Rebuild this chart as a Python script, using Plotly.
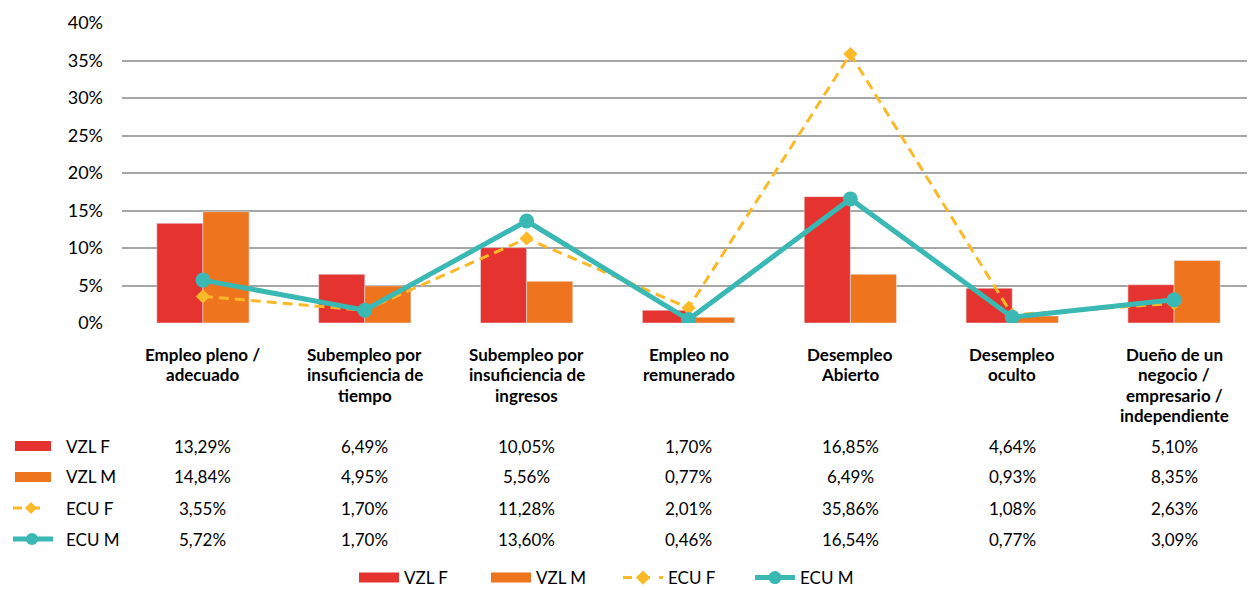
import plotly.graph_objects as go

categories = [
    "Empleo pleno /<br>adecuado",
    "Subempleo por<br>insuficiencia de<br>tiempo",
    "Subempleo por<br>insuficiencia de<br>ingresos",
    "Empleo no<br>remunerado",
    "Desempleo<br>Abierto",
    "Desempleo<br>oculto",
    "Dueño de un<br>negocio /<br>empresario /<br>independiente",
]
vzl_f = [13.29, 6.49, 10.05, 1.70, 16.85, 4.64, 5.10]
vzl_m = [14.84, 4.95, 5.56, 0.77, 6.49, 0.93, 8.35]
ecu_f = [3.55, 1.70, 11.28, 2.01, 35.86, 1.08, 2.63]
ecu_m = [5.72, 1.70, 13.60, 0.46, 16.54, 0.77, 3.09]
series_names = ["VZL F", "VZL M", "ECU F", "ECU M"]

RED = "#E5332F"
ORANGE = "#EE751E"
YELLOW = "#FBB928"
TEAL = "#3AB8B4"
FONT = "Lato"
DASH = "10px,6px"

# page has an 8px body margin, so the figure is drawn 8px smaller
PW, PL, PT = 1133, 122, 23  # plot width, plot left / top on screen


def px_x(p):
    return (p - PL) / PW


def px_y(p):
    return (PT + 300 - p) / 300


xs = list(range(len(categories)))

fig = go.Figure()
fig.add_trace(go.Bar(x=xs, y=vzl_f, name="VZL F", marker_color=RED,
                     showlegend=False, legendgroup="vf"))
fig.add_trace(go.Bar(x=xs, y=vzl_m, name="VZL M", marker_color=ORANGE,
                     showlegend=False, legendgroup="vm"))
fig.add_trace(go.Scatter(
    x=xs, y=ecu_f, name="ECU F", mode="lines+markers",
    line=dict(color=YELLOW, width=3, dash=DASH),
    marker=dict(symbol="diamond", size=11, color=YELLOW),
    showlegend=False, legendgroup="ef",
))
fig.add_trace(go.Scatter(
    x=xs, y=ecu_m, name="ECU M", mode="lines+markers",
    line=dict(color=TEAL, width=5),
    marker=dict(symbol="circle", size=15, color=TEAL),
    showlegend=False, legendgroup="em",
))

# legend entries (empty traces, so bar keys look like wide blocks)
fig.add_trace(go.Scatter(x=[None], y=[None], name="VZL F", mode="lines",
                         line=dict(color=RED, width=10), legendgroup="vf"))
fig.add_trace(go.Scatter(x=[None], y=[None], name="VZL M", mode="lines",
                         line=dict(color=ORANGE, width=10), legendgroup="vm"))
fig.add_trace(go.Scatter(x=[None], y=[None], name="ECU F", mode="lines+markers",
                         line=dict(color=YELLOW, width=3, dash="dash"),
                         marker=dict(symbol="diamond", size=11, color=YELLOW),
                         legendgroup="ef"))
fig.add_trace(go.Scatter(x=[None], y=[None], name="ECU M", mode="lines+markers",
                         line=dict(color=TEAL, width=5),
                         marker=dict(symbol="circle", size=13, color=TEAL),
                         legendgroup="em"))

annotations = []
# category labels under the axis, one line at a time for tight spacing
for i, c in enumerate(categories):
    for j, line in enumerate(c.split("<br>")):
        annotations.append(dict(
            x=i, y=px_y(354 + j * 20.6), xref="x", yref="paper",
            text="<b>" + line + "</b>",
            showarrow=False, yanchor="middle", xanchor="center",
            font=dict(family=FONT, size=17, color="black"),
        ))

# data table rows
rows = [vzl_f, vzl_m, ecu_f, ecu_m]
row_y = [px_y(446), px_y(477), px_y(508), px_y(539)]
for name, vals, yy in zip(series_names, rows, row_y):
    annotations.append(dict(
        x=px_x(64), y=yy, xref="paper", yref="paper", text=name,
        showarrow=False, xanchor="left", yanchor="middle",
        font=dict(family=FONT, size=17, color="black"),
    ))
    for i, v in enumerate(vals):
        annotations.append(dict(
            x=i, y=yy, xref="x", yref="paper",
            text=f"{v:.2f}".replace(".", ",") + "%",
            showarrow=False, xanchor="center", yanchor="middle",
            font=dict(family=FONT, size=17, color="black"),
        ))

# table keys
dy = 5 / 300
shapes = [
    dict(type="rect", xref="paper", yref="paper", x0=px_x(15), x1=px_x(51),
         y0=row_y[0] - dy, y1=row_y[0] + dy, fillcolor=RED, line_width=0),
    dict(type="rect", xref="paper", yref="paper", x0=px_x(15), x1=px_x(51),
         y0=row_y[1] - dy, y1=row_y[1] + dy, fillcolor=ORANGE, line_width=0),
    dict(type="line", xref="paper", yref="paper", x0=px_x(13), x1=px_x(48),
         y0=row_y[2], y1=row_y[2], line=dict(color=YELLOW, width=3, dash="dash")),
    dict(type="line", xref="paper", yref="paper", x0=px_x(13), x1=px_x(53),
         y0=row_y[3], y1=row_y[3], line=dict(color=TEAL, width=5)),
    dict(type="path", xref="paper", yref="paper",
         path=f"M {px_x(31)},{row_y[2] + 6/300} L {px_x(37)},{row_y[2]} "
              f"L {px_x(31)},{row_y[2] - 6/300} L {px_x(25)},{row_y[2]} Z",
         fillcolor=YELLOW, line_width=0),
    dict(type="circle", xref="paper", yref="paper",
         x0=px_x(26), x1=px_x(38),
         y0=row_y[3] - 6/300, y1=row_y[3] + 6/300, fillcolor=TEAL, line_width=0),
]

fig.update_layout(
    width=1247, height=582,
    margin=dict(l=114, r=0, t=15, b=267, autoexpand=False),
    paper_bgcolor="white", plot_bgcolor="white",
    barmode="group", bargap=0.43, bargroupgap=0,
    font=dict(family=FONT, size=17, color="black"),
    xaxis=dict(range=[-0.5, 6.5], showticklabels=False, showgrid=False,
               zeroline=False, showline=False, ticks=""),
    yaxis=dict(range=[0, 40], dtick=5, ticksuffix="%", showgrid=True,
               gridcolor="#A6A6A6", gridwidth=1.5, zeroline=False,
               showline=False, ticks="", ticklabelstandoff=18,
               tickfont=dict(family=FONT, size=18, color="black")),
    legend=dict(orientation="h", x=px_x(618), xanchor="center",
                y=px_y(578), yanchor="middle",
                font=dict(family=FONT, size=17, color="black"),
                itemwidth=40, entrywidth=77, tracegroupgap=0),
    annotations=annotations,
    shapes=shapes,
)

fig.write_html("out.html")
